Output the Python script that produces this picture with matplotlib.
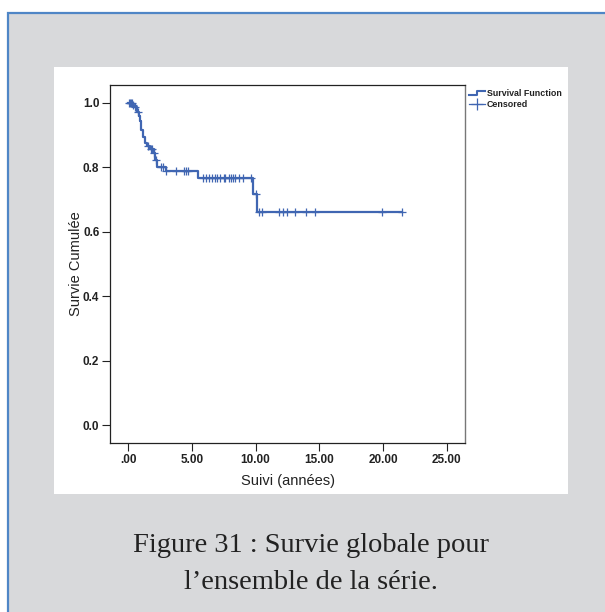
import numpy as np
import matplotlib.pyplot as plt
from matplotlib.patches import Rectangle
from matplotlib.lines import Line2D
from matplotlib.legend_handler import HandlerLine2D

# courbe de survie (Kaplan-Meier)
temps = [0.0, 0.3, 0.5, 0.7, 0.85, 0.95, 1.05, 1.15, 1.3, 1.5, 1.75, 2.0, 2.15, 2.3, 3.0, 5.45, 9.8, 10.15, 21.5]
survie = [1.0, 0.993, 0.986, 0.972, 0.958, 0.944, 0.916, 0.895, 0.874, 0.865, 0.858, 0.843, 0.822, 0.801, 0.788, 0.767, 0.716, 0.661, 0.661]

# observations censurées
censures = [0.05, 0.12, 0.2, 0.28, 0.4, 0.55, 0.75, 1.6, 1.8, 1.9, 2.05, 2.2,
            2.57, 2.75, 3.01, 3.74, 4.37, 4.53, 4.71,
            5.9, 6.1, 6.35, 6.6, 6.85, 7.0, 7.2, 7.5, 7.6, 7.95, 8.1, 8.2, 8.4, 8.7, 9.05, 9.65,
            10.02, 10.28, 10.47, 11.83, 12.12, 12.48, 13.08, 13.95, 14.65, 19.89, 21.51]

xticks = [0, 5, 10, 15, 20, 25]
xlabels = ['.00', '5.00', '10.00', '15.00', '20.00', '25.00']
yticks = [0.0, 0.2, 0.4, 0.6, 0.8, 1.0]
ylabels = ['0.0', '0.2', '0.4', '0.6', '0.8', '1.0']

bleu = '#4066b2'
noir = '#222222'


class HandlerMarche(HandlerLine2D):
    # petit symbole en escalier pour la légende
    def create_artists(self, legend, orig_handle, xdescent, ydescent, width, height, fontsize, trans):
        x0, x1 = -xdescent, -xdescent + width
        xm = x0 + width * 0.5
        yb = -ydescent + height * 0.15
        yh = -ydescent + height * 0.8
        ligne = Line2D([x0, xm, xm, x1], [yb, yb, yh, yh], color=orig_handle.get_color(),
                       linewidth=orig_handle.get_linewidth(), transform=trans)
        return [ligne]


fig = plt.figure(figsize=(6.05, 6.12), dpi=100)
fig.patch.set_facecolor('white')

# cadre gris avec bord bleu
fig.add_artist(Rectangle((0.0132, -0.05), 1.1, 0.9788 + 0.05, transform=fig.transFigure,
                         facecolor='#d8d9db', edgecolor='#4f86c6', linewidth=1.6, zorder=-2))
fig.add_artist(Rectangle((0.0893, 0.1928), 0.8496, 0.6977, transform=fig.transFigure,
                         facecolor='white', edgecolor='none', zorder=-1))

ax = fig.add_axes([0.1826, 0.2761, 0.586, 0.585])
ax.set_facecolor('white')

ax.step(temps, survie, where='post', color=bleu, linewidth=1.6)
t = np.array(temps)
s = np.array(survie)
idx = np.searchsorted(t, censures, side='right') - 1
ax.plot(censures, s[idx], linestyle='none', marker='+', markersize=6,
        markeredgewidth=0.9, color=bleu)

ax.set_xlim(-1.38, 26.43)
ax.set_ylim(-0.055, 1.055)
ax.set_xticks(xticks)
ax.set_xticklabels(xlabels, fontweight='bold', fontsize=8.5, family='Liberation Sans', color=noir)
ax.set_yticks(yticks)
ax.set_yticklabels(ylabels, fontweight='bold', fontsize=8.5, family='Liberation Sans', color=noir)
ax.tick_params(direction='out', length=6, width=0.8, pad=2, colors=noir)

for side in ['left', 'bottom', 'top']:
    ax.spines[side].set_color(noir)
    ax.spines[side].set_linewidth(0.9)
ax.spines['right'].set_color('#777777')
ax.spines['right'].set_linewidth(1.0)

ax.set_xlabel('Suivi (années)', fontsize=10.5, family='Liberation Sans', color=noir, labelpad=6)
ax.set_ylabel('Survie Cumulée', fontsize=10.5, family='Liberation Sans', color=noir, labelpad=0)

h_surv = Line2D([0], [0], color=bleu, linewidth=1.5)
h_cens = Line2D([0], [0], color=bleu, linewidth=0.9, marker='+', markersize=9, markeredgewidth=0.9)
leg = ax.legend([h_surv, h_cens], ['Survival Function', 'Censored'], loc='upper left',
                bbox_to_anchor=(1.01, 0.99), frameon=False, handlelength=1.9,
                handletextpad=0.15, labelspacing=0.3, borderaxespad=0.0, borderpad=0.0,
                handler_map={h_surv: HandlerMarche()},
                prop={'family': 'Liberation Sans', 'weight': 'bold', 'size': 6.4})
for txt in leg.get_texts():
    txt.set_color(noir)

fig.text(0.514, 0.1085, 'Figure 31 : Survie globale pour', ha='center', va='center',
         family='Liberation Serif', fontsize=20.5, color=noir)
fig.text(0.514, 0.049, 'l\u2019ensemble de la série.', ha='center', va='center',
         family='Liberation Serif', fontsize=20.5, color=noir)

fig.savefig('out.png', dpi=100)
